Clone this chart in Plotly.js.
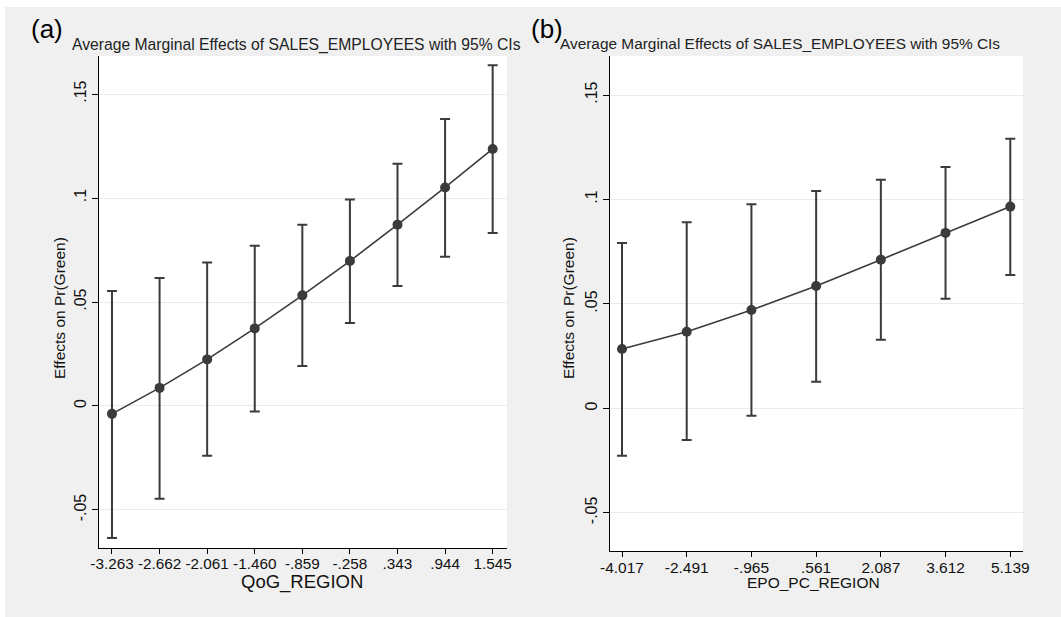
<!DOCTYPE html>
<html>
<head>
<meta charset="utf-8">
<script src="https://cdn.plot.ly/plotly-3.0.1.min.js"></script>
<style>
  html, body { margin: 0; padding: 0; background: #ffffff; }
  #chart { width: 1061px; height: 617px; }
</style>
</head>
<body>
<div id="chart"></div>
<script>
// ---- Panel (a): QoG_REGION ----
const qogValues = [-3.263, -2.662, -2.061, -1.460, -0.859, -0.258, 0.343, 0.944, 1.545];
const qogTickText = ['-3.263', '-2.662', '-2.061', '-1.460', '-.859', '-.258', '.343', '.944', '1.545'];
const aEffect = [-0.0038, 0.0087, 0.0224, 0.0373, 0.0532, 0.0697, 0.0872, 0.1051, 0.1236];
const aUpper  = [0.0553, 0.0615, 0.0690, 0.0771, 0.0872, 0.0993, 0.1165, 0.1380, 0.1638];
const aLower  = [-0.0635, -0.0446, -0.0239, -0.0026, 0.0192, 0.0399, 0.0577, 0.0718, 0.0832];

// ---- Panel (b): EPO_PC_REGION ----
const epoValues = [-4.017, -2.491, -0.965, 0.561, 2.087, 3.612, 5.139];
const epoTickText = ['-4.017', '-2.491', '-.965', '.561', '2.087', '3.612', '5.139'];
const bEffect = [0.0284, 0.0367, 0.0471, 0.0586, 0.0712, 0.0840, 0.0966];
const bUpper  = [0.0792, 0.0891, 0.0977, 0.1041, 0.1095, 0.1156, 0.1291];
const bLower  = [-0.0227, -0.0152, -0.0035, 0.0127, 0.0329, 0.0525, 0.0638];

// ---- Shared y ticks ----
const yTickValues = [-0.05, 0, 0.05, 0.1, 0.15];
const yTickText = ['-.05', '0', '.05', '.1', '.15'];

const chartTitle = 'Average Marginal Effects of SALES_EMPLOYEES with 95% CIs';
const yTitle = 'Effects on Pr(Green)';

const W = 1061, H = 617;
const px = v => v / W;
const py = v => 1 - v / H;

const ink = '#3b3b3b';
const FONT = 'Liberation Sans, Arial, sans-serif';

function trace(x, est, up, lo, xa, ya) {
  return {
    type: 'scatter', mode: 'lines+markers',
    x: x, y: est, xaxis: xa, yaxis: ya,
    line: { color: ink, width: 1.6 },
    marker: { color: ink, size: 10 },
    error_y: {
      type: 'data', symmetric: false,
      array: up.map((u, i) => u - est[i]),
      arrayminus: lo.map((l, i) => est[i] - l),
      color: ink, thickness: 2, width: 5
    },
    showlegend: false, hoverinfo: 'x+y'
  };
}

function xAxis(domain, range, vals, text, anchor, size) {
  return {
    domain: domain, range: range, anchor: anchor,
    tickmode: 'array', tickvals: vals, ticktext: text,
    ticks: 'outside', ticklen: 5, tickwidth: 1, tickcolor: '#000',
    ticklabelstandoff: -3,
    showline: true, linecolor: '#000', linewidth: 1,
    showgrid: false, zeroline: false, automargin: false,
    tickfont: { family: FONT, size: size, color: '#111' }
  };
}
function yAxis(domain, range, anchor) {
  return {
    domain: domain, range: range, anchor: anchor,
    tickmode: 'array', tickvals: yTickValues, ticktext: yTickText,
    tickangle: -90,
    ticks: 'outside', ticklen: 6, tickwidth: 1, tickcolor: '#000',
    showline: true, linecolor: '#000', linewidth: 1,
    showgrid: true, gridcolor: '#ebebeb', gridwidth: 1,
    zeroline: false, automargin: false,
    tickfont: { family: FONT, size: 16, color: '#111' }
  };
}

const data = [
  trace(qogValues, aEffect, aUpper, aLower, 'x', 'y'),
  trace(epoValues, bEffect, bUpper, bLower, 'x2', 'y2')
];

const layout = {
  width: W, height: H,
  margin: { l: 0, r: 0, t: 0, b: 0 },
  paper_bgcolor: '#f0f0f0',
  plot_bgcolor: '#ffffff',
  showlegend: false,
  xaxis: xAxis([px(99), px(507)], [-3.427, 1.726], qogValues, qogTickText, 'y', 15.3),
  yaxis: yAxis([py(548), py(56)], [-0.0683, 0.1683], 'x'),
  xaxis2: xAxis([px(610), px(1023)], [-4.300, 5.439], epoValues, epoTickText, 'y2', 15.5),
  yaxis2: yAxis([py(551), py(56)], [-0.0683, 0.1687], 'x2'),
  shapes: [
    { type: 'rect', xref: 'paper', yref: 'paper', x0: 0, x1: 1, y0: py(7), y1: 1,
      fillcolor: '#ffffff', line: { width: 0 }, layer: 'above' },
    { type: 'rect', xref: 'paper', yref: 'paper', x0: 0, x1: px(5), y0: 0, y1: 1,
      fillcolor: '#ffffff', line: { width: 0 }, layer: 'above' }
  ],
  annotations: [
    { text: '(a)', xref: 'paper', yref: 'paper', x: px(29), y: py(29), xanchor: 'left', yanchor: 'middle',
      showarrow: false, font: { family: FONT, size: 26, color: '#000' } },
    { text: '(b)', xref: 'paper', yref: 'paper', x: px(529), y: py(29), xanchor: 'left', yanchor: 'middle',
      showarrow: false, font: { family: FONT, size: 26, color: '#000' } },
    { text: chartTitle, xref: 'paper', yref: 'paper', x: px(70), y: py(45), xanchor: 'left', yanchor: 'middle',
      showarrow: false, font: { family: FONT, size: 15.7, color: '#222' } },
    { text: chartTitle, xref: 'paper', yref: 'paper', x: px(558), y: py(43), xanchor: 'left', yanchor: 'middle',
      showarrow: false, font: { family: FONT, size: 15.4, color: '#222' } },
    { text: yTitle, xref: 'paper', yref: 'paper', x: px(59), y: py(308), xanchor: 'center', yanchor: 'middle',
      textangle: -90, showarrow: false, font: { family: FONT, size: 15.5, color: '#111' } },
    { text: yTitle, xref: 'paper', yref: 'paper', x: px(568), y: py(308), xanchor: 'center', yanchor: 'middle',
      textangle: -90, showarrow: false, font: { family: FONT, size: 15.5, color: '#111' } },
    { text: 'QoG_REGION', xref: 'paper', yref: 'paper', x: px(302), y: py(582), xanchor: 'center', yanchor: 'middle',
      showarrow: false, font: { family: FONT, size: 18.5, color: '#111' } },
    { text: 'EPO_PC_REGION', xref: 'paper', yref: 'paper', x: px(813), y: py(582), xanchor: 'center', yanchor: 'middle',
      showarrow: false, font: { family: FONT, size: 15.5, color: '#111' } }
  ]
};

Plotly.newPlot('chart', data, layout, { displayModeBar: false, staticPlot: true });
</script>
</body>
</html>
